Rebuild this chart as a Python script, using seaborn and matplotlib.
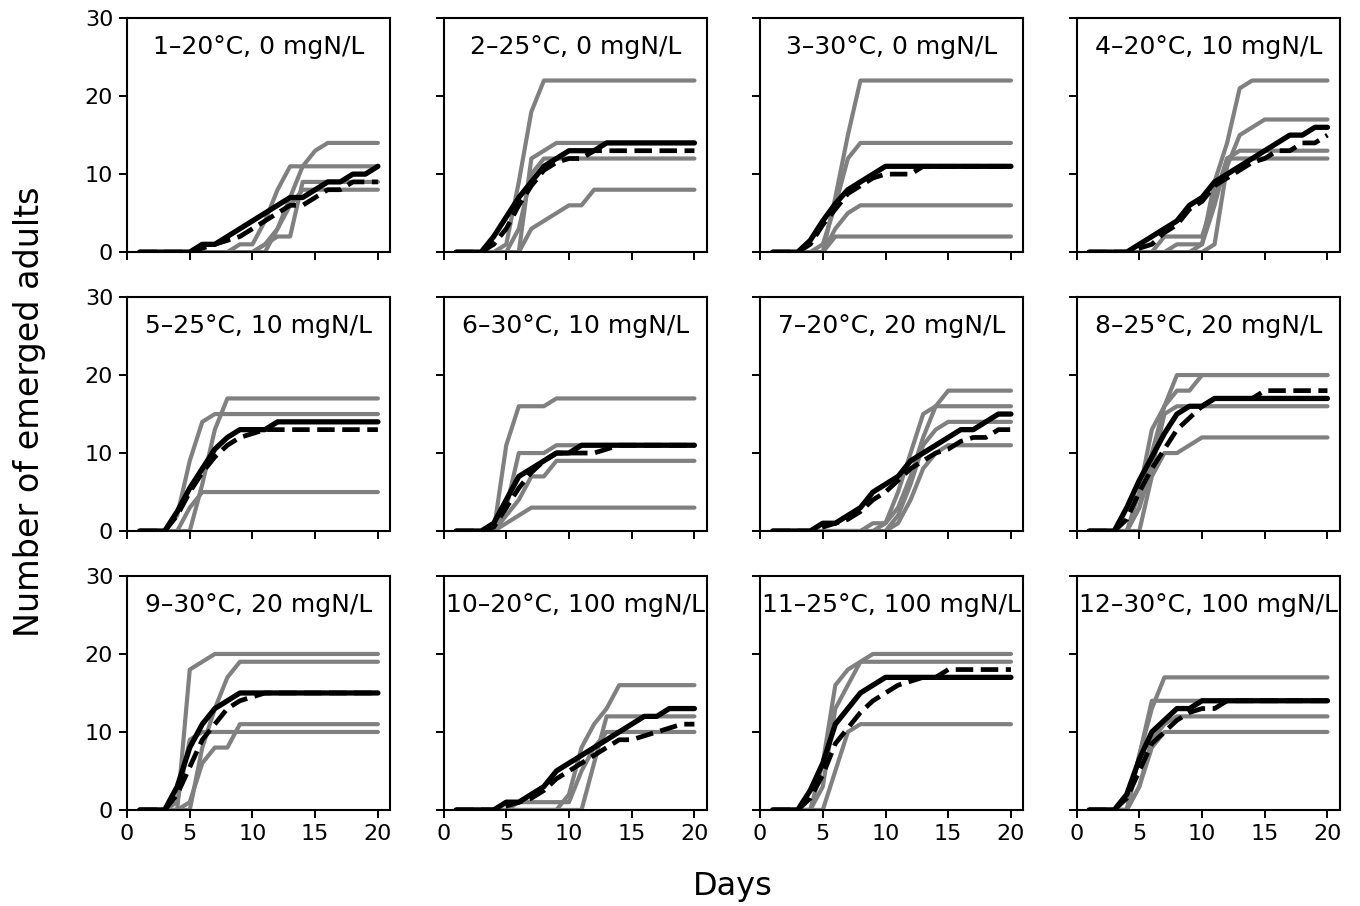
import matplotlib
matplotlib.use("Agg")
import matplotlib.pyplot as plt
import pandas as pd
import seaborn as sns

days = list(range(1, 21))

titles = ["1–20°C, 0 mgN/L", "2–25°C, 0 mgN/L", "3–30°C, 0 mgN/L", "4–20°C, 10 mgN/L",
          "5–25°C, 10 mgN/L", "6–30°C, 10 mgN/L", "7–20°C, 20 mgN/L", "8–25°C, 20 mgN/L",
          "9–30°C, 20 mgN/L", "10–20°C, 100 mgN/L", "11–25°C, 100 mgN/L", "12–30°C, 100 mgN/L"]

# replicate (grey) curves
p1_rep = [[0,0,0,0,0,0,0,0,0,0,0,3,7,11,13,14,14,14,14,14],
          [0,0,0,0,0,0,0,0,1,1,4,8,11,11,11,11,11,11,11,11],
          [0,0,0,0,0,0,0,0,0,0,1,2,2,9,9,9,9,9,9,9],
          [0,0,0,0,0,0,0,0,0,0,1,3,6,8,8,8,8,8,8,8]]
p2_rep = [[0,0,0,0,1,9,18,22,22,22,22,22,22,22,22,22,22,22,22,22],
          [0,0,0,0,0,0,12,13,14,14,14,14,14,14,14,14,14,14,14,14],
          [0,0,0,0,0,3,10,12,12,12,12,12,12,12,12,12,12,12,12,12],
          [0,0,0,0,0,0,3,4,5,6,6,8,8,8,8,8,8,8,8,8]]
p3_rep = [[0,0,0,0,0,7,15,22,22,22,22,22,22,22,22,22,22,22,22,22],
          [0,0,0,0,1,6,12,14,14,14,14,14,14,14,14,14,14,14,14,14],
          [0,0,0,0,0,3,5,6,6,6,6,6,6,6,6,6,6,6,6,6],
          [0,0,0,0,0,2,2,2,2,2,2,2,2,2,2,2,2,2,2,2]]
p4_rep = [[0,0,0,0,0,0,0,0,0,1,9,14,21,22,22,22,22,22,22,22],
          [0,0,0,0,0,0,0,0,0,0,1,11,15,16,17,17,17,17,17,17],
          [0,0,0,0,0,0,0,1,1,1,6,12,13,13,13,13,13,13,13,13],
          [0,0,0,0,0,0,2,2,2,2,7,12,12,12,12,12,12,12,12,12]]
p5_rep = [[0,0,0,0,0,6,13,17,17,17,17,17,17,17,17,17,17,17,17,17],
          [0,0,0,2,9,14,15,15,15,15,15,15,15,15,15,15,15,15,15,15],
          [0,0,0,0,3,5,5,5,5,5,5,5,5,5,5,5,5,5,5,5]]
p6_rep = [[0,0,0,0,11,16,16,16,17,17,17,17,17,17,17,17,17,17,17,17],
          [0,0,0,0,3,10,10,10,11,11,11,11,11,11,11,11,11,11,11,11],
          [0,0,0,0,2,4,7,7,9,9,9,9,9,9,9,9,9,9,9,9],
          [0,0,0,0,1,2,3,3,3,3,3,3,3,3,3,3,3,3,3,3]]
p7_rep = [[0,0,0,0,0,0,0,0,1,1,5,10,15,16,18,18,18,18,18,18],
          [0,0,0,0,0,0,0,0,0,1,3,7,12,16,16,16,16,16,16,16],
          [0,0,0,0,0,0,0,0,0,0,2,6,11,13,14,14,14,14,14,14],
          [0,0,0,0,0,0,0,0,0,0,1,4,8,10,11,11,11,11,11,11]]
p8_rep = [[0,0,0,0,5,13,16,20,20,20,20,20,20,20,20,20,20,20,20,20],
          [0,0,0,0,3,10,16,18,18,20,20,20,20,20,20,20,20,20,20,20],
          [0,0,0,0,3,8,15,16,16,16,16,16,16,16,16,16,16,16,16,16],
          [0,0,0,0,0,7,10,10,11,12,12,12,12,12,12,12,12,12,12,12]]
p9_rep = [[0,0,0,0,18,19,20,20,20,20,20,20,20,20,20,20,20,20,20,20],
          [0,0,0,0,0,8,13,17,19,19,19,19,19,19,19,19,19,19,19,19],
          [0,0,0,1,9,10,10,10,10,10,10,10,10,10,10,10,10,10,10,10],
          [0,0,0,0,1,6,8,8,11,11,11,11,11,11,11,11,11,11,11,11]]
p10_rep = [[0,0,0,0,0,0,0,0,0,2,8,11,13,16,16,16,16,16,16,16],
           [0,0,0,0,0,0,0,0,0,0,0,6,12,12,12,12,12,12,12,12],
           [0,0,0,0,0,1,1,1,1,1,5,8,10,10,10,10,10,10,10,10]]
p11_rep = [[0,0,0,0,6,16,18,19,20,20,20,20,20,20,20,20,20,20,20,20],
           [0,0,0,0,3,13,16,19,19,19,19,19,19,19,19,19,19,19,19,19],
           [0,0,0,0,0,5,10,11,11,11,11,11,11,11,11,11,11,11,11,11]]
p12_rep = [[0,0,0,0,7,13,17,17,17,17,17,17,17,17,17,17,17,17,17,17],
           [0,0,0,0,7,14,14,14,14,14,14,14,14,14,14,14,14,14,14,14],
           [0,0,0,0,3,9,11,12,12,12,12,12,12,12,12,12,12,12,12,12],
           [0,0,0,0,3,8,10,10,10,10,10,10,10,10,10,10,10,10,10,10]]

# black solid curves
p1_mean = [0,0,0,0,0,1,1,2,3,4,5,6,7,7,8,9,9,10,10,11]
p2_mean = [0,0,0,2,4.5,7,9,11,12,13,13,13,14,14,14,14,14,14,14,14]
p3_mean = [0,0,0,1.5,4,6.2,8,9,10,11,11,11,11,11,11,11,11,11,11,11]
p4_mean = [0,0,0,0,1,2,3,4,6,7,9,10,11,12,13,14,15,15,16,16]
p5_mean = [0,0,0,2.5,5.5,8,10.5,12,13,13,13,14,14,14,14,14,14,14,14,14]
p6_mean = [0,0,0,1,4,7,8,9,10,10,11,11,11,11,11,11,11,11,11,11]
p7_mean = [0,0,0,0,1,1,2,3,5,6,7,9,10,11,12,13,13,14,15,15]
p8_mean = [0,0,0,3,6.5,9.5,12.5,15,16,16,17,17,17,17,17,17,17,17,17,17]
p9_mean = [0,0,0,3,8,11,13,14,15,15,15,15,15,15,15,15,15,15,15,15]
p10_mean = [0,0,0,0,1,1,2,3,5,6,7,8,9,10,11,12,12,13,13,13]
p11_mean = [0,0,0,2.5,6,11,13,15,16,17,17,17,17,17,17,17,17,17,17,17]
p12_mean = [0,0,0,2,6.5,10,11.5,13,13,14,14,14,14,14,14,14,14,14,14,14]

# black dashed curves
p1_model = [0,0,0,0,0,0.5,1,1.5,2,3,4,5,6,6,7,8,8,9,9,9]
p2_model = [0,0,0,1,3,6,8.5,10.5,11.5,12,12,13,13,13,13,13,13,13,13,13]
p3_model = [0,0,0,1,3.5,5.5,7.5,8.5,9.5,10,10,10,11,11,11,11,11,11,11,11]
p4_model = [0,0,0,0,0.5,1,2.5,3.5,5.5,6.5,8.5,9.5,10.5,11.5,12,13,13,14,14,15]
p5_model = [0,0,0,2,5,7.5,9.5,11,12,12.5,13,13,13,13,13,13,13,13,13,13]
p6_model = [0,0,0,0.5,3,5.5,7.5,9,10,10,10,10,10.5,11,11,11,11,11,11,11]
p7_model = [0,0,0,0,0.5,1,1.5,2.5,4,5,6.5,8,9,10,10.5,11.5,12,12,13,13]
p8_model = [0,0,0,1.5,5,8,10.5,13,14.5,16,17,17,17,17,18,18,18,18,18,18]
p9_model = [0,0,0,2,5.5,9,11,13,14,14.5,15,15,15,15,15,15,15,15,15,15]
p10_model = [0,0,0,0,0.5,1,1.5,2.5,4,5,6,7,8,9,9,9.5,10,10.5,11,11]
p11_model = [0,0,0,1.5,4.5,8.5,10.5,12.5,14,15,16,16.5,17,17,18,18,18,18,18,18]
p12_model = [0,0,0,1.5,5,8.5,10,11.5,12.5,13,13,14,14,14,14,14,14,14,14,14]

reps = [p1_rep, p2_rep, p3_rep, p4_rep, p5_rep, p6_rep, p7_rep, p8_rep, p9_rep, p10_rep, p11_rep, p12_rep]
means = [p1_mean, p2_mean, p3_mean, p4_mean, p5_mean, p6_mean, p7_mean, p8_mean, p9_mean, p10_mean, p11_mean, p12_mean]
models = [p1_model, p2_model, p3_model, p4_model, p5_model, p6_model, p7_model, p8_model, p9_model, p10_model, p11_model, p12_model]

sns.set_style("ticks")
plt.rcParams['font.family'] = ['DejaVu Sans']
plt.rcParams['text.color'] = 'black'
plt.rcParams['axes.labelcolor'] = 'black'
plt.rcParams['xtick.color'] = 'black'
plt.rcParams['ytick.color'] = 'black'

fig, axes = plt.subplots(3, 4, figsize=(13.6, 9.06), dpi=100, sharex=True, sharey=True)
fig.subplots_adjust(left=0.0934, right=0.9853, top=0.980, bottom=0.106, wspace=0.2015, hspace=0.192)

for k, ax in enumerate(axes.flat):
    rows = []
    for j, r in enumerate(reps[k]):
        for d, v in zip(days, r):
            rows.append({"day": d, "value": v, "rep": j})
    df = pd.DataFrame(rows)
    sns.lineplot(data=df, x="day", y="value", units="rep", estimator=None,
                 color="#808080", lw=3.0, ax=ax, legend=False)
    sns.lineplot(x=days, y=means[k], color="black", lw=3.8, ax=ax)
    sns.lineplot(x=days, y=models[k], color="black", lw=3.4, linestyle="--", ax=ax)
    ax.set_xlim(0, 21)
    ax.set_ylim(0, 30)
    ax.set_xticks([0, 5, 10, 15, 20])
    ax.set_yticks([0, 10, 20, 30])
    ax.tick_params(direction="out", length=6, width=1.4, labelsize=16, colors="black", pad=4)
    for s in ax.spines.values():
        s.set_linewidth(1.5)
        s.set_color("black")
    ax.set_xlabel("")
    ax.set_ylabel("")
    ax.text(0.5, 0.875, titles[k], transform=ax.transAxes, ha="center", va="center",
            fontsize=18, color="black")

fig.text(0.539, 0.022, "Days", ha="center", va="center", fontsize=23, color="black")
fig.text(0.022, 0.545, "Number of emerged adults", ha="center", va="center", rotation=90,
         fontsize=24, color="black")

fig.savefig("out.png", dpi=100)
